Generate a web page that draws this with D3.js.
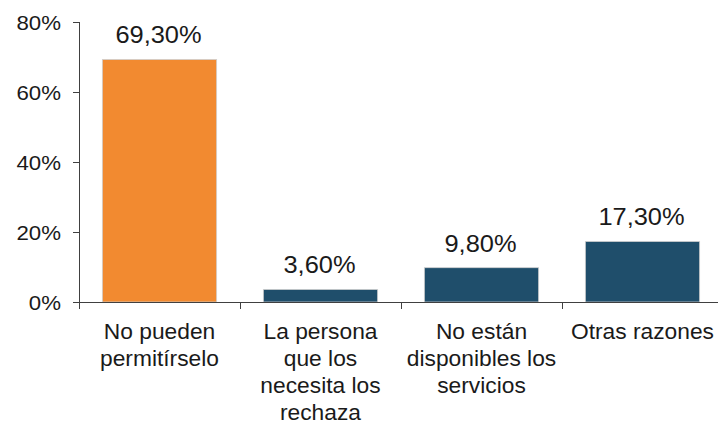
<!DOCTYPE html>
<html>
<head>
<meta charset="utf-8">
<script src="https://cdn.jsdelivr.net/npm/d3@7"></script>
<style>
  body { margin: 0; background: #fff; }
  svg { display: block; font-family: "Liberation Sans", Arial, sans-serif; }
</style>
</head>
<body>
<script>
const width = 718;
const height = 424;

// datos
const categories = [
    ["No pueden", "permitírselo"],
    ["La persona", "que los", "necesita los", "rechaza"],
    ["No están", "disponibles los", "servicios"],
    ["Otras razones"]
];
const values = [69.3, 3.6, 9.8, 17.3];
const valueLabels = ["69,30%", "3,60%", "9,80%", "17,30%"];
const barColors = ["#f28a30", "#1f4e6b", "#1f4e6b", "#1f4e6b"];
const yTicks = [0, 20, 40, 60, 80];

const plotLeft = 79, plotTop = 22, plotBottom = 302;
const stretch = 1.06; // el grafico original esta un poco estirado en horizontal

const svg = d3.select("body").append("svg").attr("width", width).attr("height", height);

const x = d3.scaleBand()
    .domain(d3.range(values.length))
    .range([plotLeft, plotLeft + 4 * 161])
    .paddingInner(0.29)
    .paddingOuter(0.145);

const y = d3.scaleLinear().domain([0, 80]).range([plotBottom, plotTop]);

const axisColor = "#404040";

// eje y
svg.append("line")
    .attr("x1", plotLeft + 0.5).attr("x2", plotLeft + 0.5)
    .attr("y1", y(80)).attr("y2", y(0))
    .attr("stroke", axisColor);

svg.selectAll(".ytick")
    .data(yTicks)
    .enter()
    .append("line")
    .attr("x1", plotLeft - 6).attr("x2", plotLeft)
    .attr("y1", d => y(d) + 0.5).attr("y2", d => y(d) + 0.5)
    .attr("stroke", axisColor);

svg.selectAll(".ylabel")
    .data(yTicks)
    .enter()
    .append("text")
    .attr("transform", d => `translate(61,${y(d) + 7.5}) scale(${stretch},1)`)
    .attr("text-anchor", "end")
    .attr("font-size", "21px")
    .attr("fill", "#1a1a1a")
    .text(d => d + "%");

// barras
svg.selectAll(".bar")
    .data(values)
    .enter()
    .append("rect")
    .attr("x", (d, i) => x(i))
    .attr("width", x.bandwidth())
    .attr("y", d => y(d))
    .attr("height", d => y(0) - y(d))
    .attr("fill", (d, i) => barColors[i])
    .attr("stroke", "#d0d0d0")
    .attr("stroke-width", 0.8);

svg.selectAll(".vlabel")
    .data(values)
    .enter()
    .append("text")
    .attr("transform", (d, i) => `translate(${x(i) + x.bandwidth() / 2 - 1},${y(d) - 16}) scale(${stretch},1)`)
    .attr("text-anchor", "middle")
    .attr("font-size", "24px")
    .attr("fill", "#1a1a1a")
    .text((d, i) => valueLabels[i]);

// eje x
svg.append("line")
    .attr("x1", plotLeft).attr("x2", width)
    .attr("y1", plotBottom + 0.5).attr("y2", plotBottom + 0.5)
    .attr("stroke", axisColor);

const step = x.step();
svg.selectAll(".xtick")
    .data(d3.range(values.length + 1))
    .enter()
    .append("line")
    .attr("x1", i => plotLeft + i * step + 0.5).attr("x2", i => plotLeft + i * step + 0.5)
    .attr("y1", plotBottom).attr("y2", plotBottom + 7)
    .attr("stroke", axisColor);

const cat = svg.selectAll(".cat")
    .data(categories)
    .enter()
    .append("g")
    .attr("transform", (d, i) => `translate(${x(i) + x.bandwidth() / 2},${plotBottom + 37})`);

cat.selectAll("text")
    .data(d => d)
    .enter()
    .append("text")
    .attr("transform", (d, j) => `translate(0,${j * 27}) scale(${stretch},1)`)
    .attr("text-anchor", "middle")
    .attr("font-size", "21.5px")
    .attr("fill", "#1a1a1a")
    .text(d => d);
</script>
</body>
</html>
